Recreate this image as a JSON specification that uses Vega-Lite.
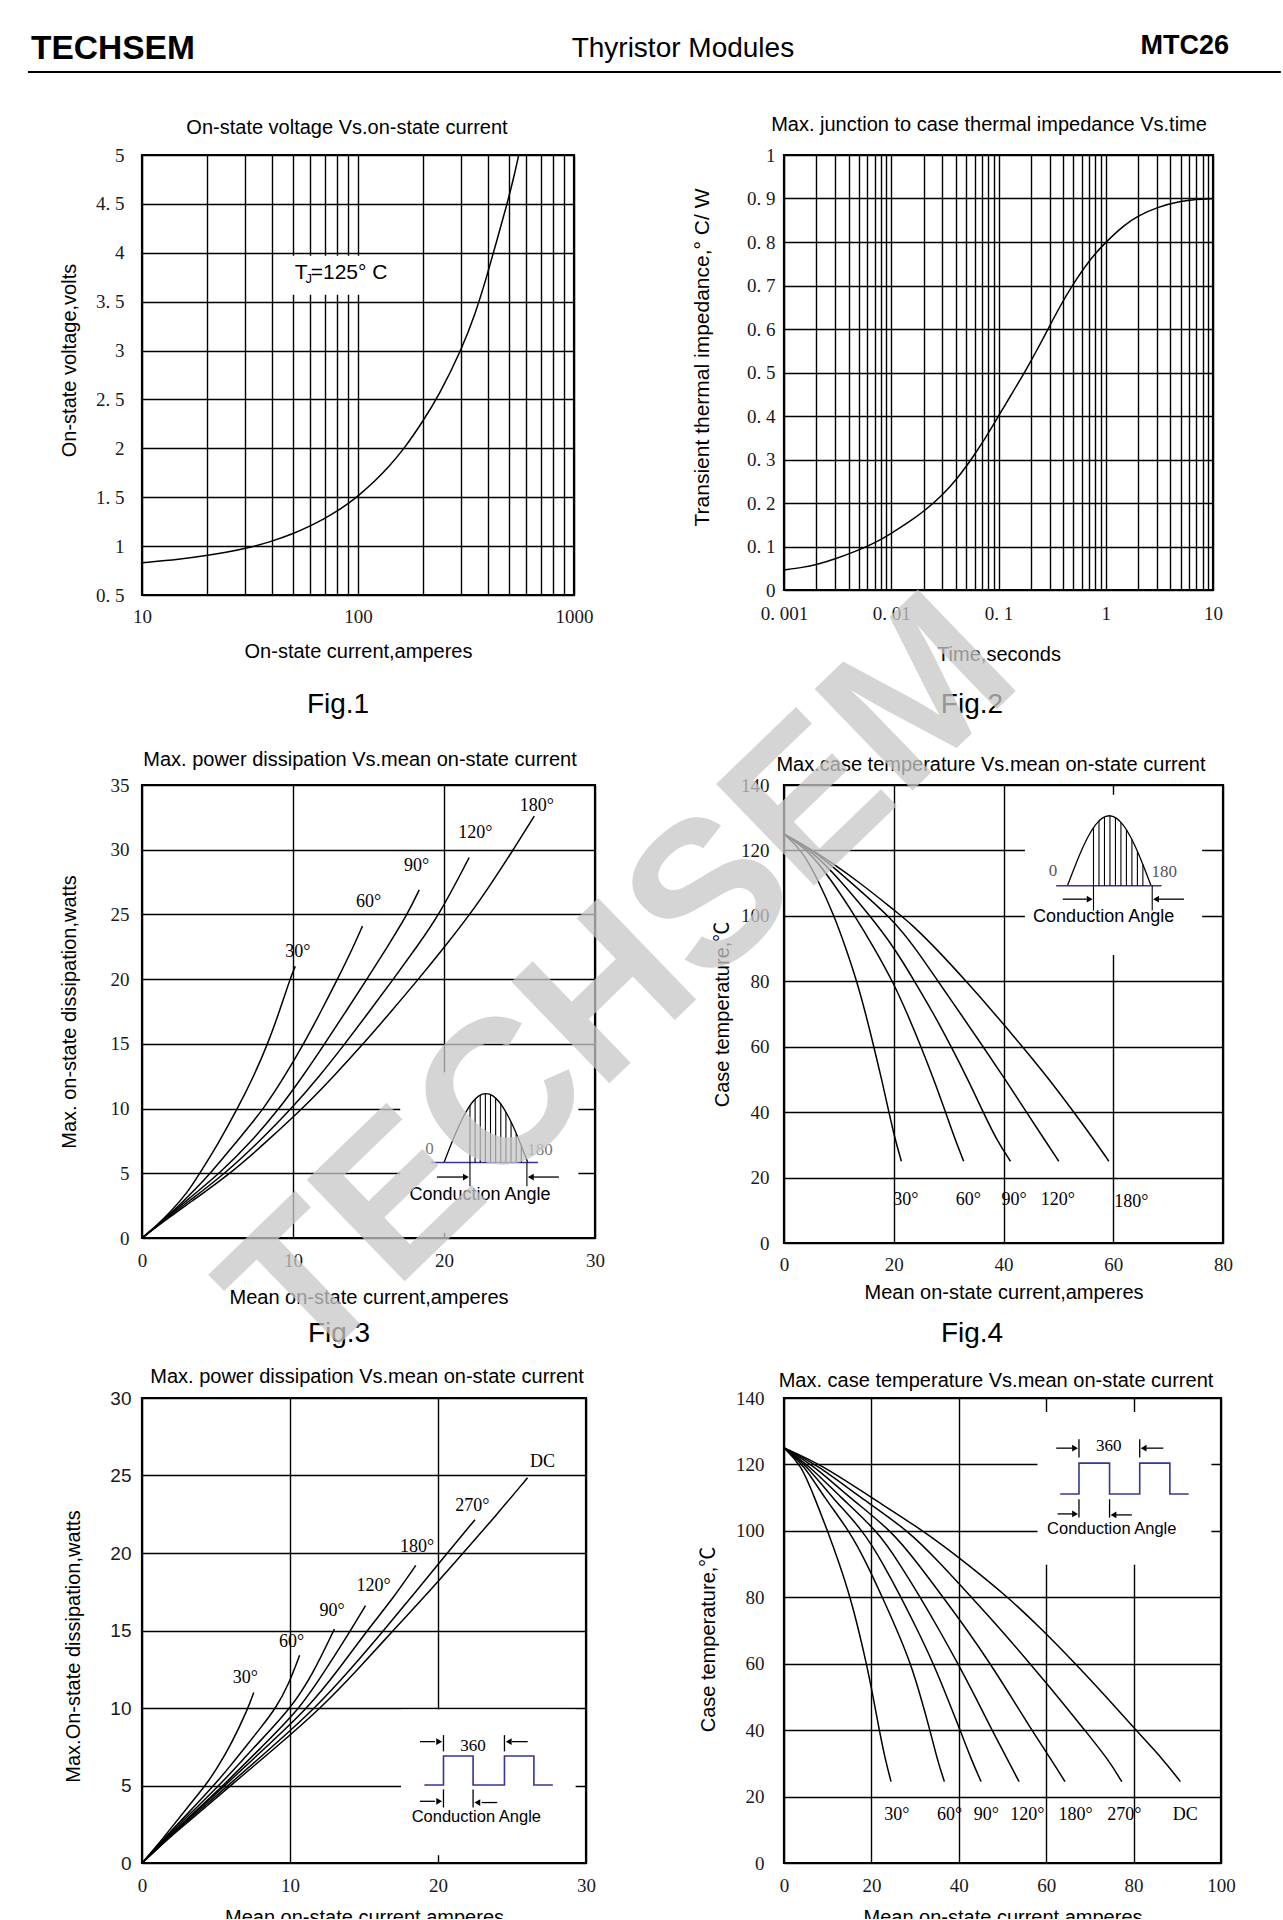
{
"$schema": "https://vega.github.io/schema/vega-lite/v6.json",
"background": "white",
"padding": {"left": 26, "top": 32, "right": 2, "bottom": -10},
"columns": 2,
"spacing": {"row": 0, "column": 189},
"bounds": "flush",
"config": {
 "view": {"stroke": null},
 "axis": {"grid": true, "gridColor": "#000", "gridWidth": 1.4, "gridOpacity": 1, "domain": false, "ticks": false, "tickSize": 0, "labelFont": "Liberation Serif", "labelFontSize": 19, "labelColor": "#1a1a1a", "labelFlush": false, "labelOverlap": false, "titleFont": "Liberation Sans, Noto Sans CJK SC", "titleFontSize": 20, "titleFontWeight": "normal", "titleColor": "#000"},
 "axisX": {"minExtent": 30, "maxExtent": 30},
 "axisY": {"minExtent": 40, "maxExtent": 40},
 "title": {"font": "Liberation Sans", "fontSize": 20, "fontWeight": "normal", "color": "#000", "baseline": "alphabetic", "frame": "group"},
 "line": {"color": "#000", "strokeWidth": 1.5},
 "text": {"font": "Liberation Sans", "color": "#000"},
 "rule": {"color": "#000"}
},
"concat": [
 {
  "width": 453, "height": 30,
  "encoding": {
   "x": {"field": "x", "type": "quantitative", "scale": {"domain": [0, 1], "nice": false}, "axis": null},
   "y": {"field": "y", "type": "quantitative", "scale": {"domain": [0, 1], "nice": false}, "axis": null}
  },
  "layer": [
   {"data": {"values": [{"x": -0.2517, "x2": 2.514, "y": 0}]}, "mark": {"type": "rule", "strokeWidth": 2}, "encoding": {"x2": {"field": "x2"}}},
   {"data": {"values": [{"x": -0.245, "y": 0.433, "t": "TECHSEM"}]}, "mark": {"type": "text", "align": "left", "baseline": "alphabetic", "fontSize": 33.5, "fontWeight": "bold"}, "encoding": {"text": {"field": "t"}}},
   {"data": {"values": [{"x": 1.194, "y": 0.5, "t": "Thyristor Modules"}]}, "mark": {"type": "text", "align": "center", "baseline": "alphabetic", "fontSize": 28}, "encoding": {"text": {"field": "t"}}},
   {"data": {"values": [{"x": 2.3996, "y": 0.6, "t": "MTC26"}]}, "mark": {"type": "text", "align": "right", "baseline": "alphabetic", "fontSize": 27, "fontWeight": "bold"}, "encoding": {"text": {"field": "t"}}}
  ]
 },
 {"width": 1, "height": 113, "data": {"values": []}, "mark": "point"},
 {
  "width": 432, "height": 440,
  "view": {"stroke": "#000", "strokeWidth": 2.2},
  "title": {"text": "On-state voltage  Vs.on-state current", "offset": 8.3, "dx": -11},
  "encoding": {
   "x": {"field": "x", "type": "quantitative", "scale": {"type": "log", "domain": [10, 1000], "nice": false},
    "axis": {"title": "On-state current,amperes", "values": [10,20,30,40,50,60,70,80,90,100,200,300,400,500,600,700,800,900,1000], "format": "~g", "labelExpr": "datum.value == 10 || datum.value == 100 || datum.value == 1000 ? datum.label : ''", "labelPadding": 12.7, "titlePadding": 16.4}},
   "y": {"field": "y", "type": "quantitative", "scale": {"domain": [0.5, 5], "nice": false, "zero": false},
    "axis": {"title": "On-state voltage,volts", "values": [0.5,1,1.5,2,2.5,3,3.5,4,4.5,5], "format": "~g", "labelExpr": "replace(datum.label, '.', '. ')", "labelPadding": 18, "titlePadding": 22.6, "titleY": 205}}
  },
  "layer": [
   {"data": {"values": [{"x": 42, "x2": 150, "y": 3.57, "y2": 3.97}]}, "mark": {"type": "rect", "color": "#fff"}, "encoding": {"x2": {"field": "x2"}, "y2": {"field": "y2"}}},
   {"data": {"values": [{"x":10,"y":0.83},{"x":15,"y":0.865},{"x":20,"y":0.905},{"x":25,"y":0.94},{"x":30,"y":0.973},{"x":40,"y":1.048},{"x":50,"y":1.126},{"x":60,"y":1.205},{"x":70,"y":1.282},{"x":80,"y":1.357},{"x":90,"y":1.434},{"x":100,"y":1.512},{"x":120,"y":1.665},{"x":140,"y":1.82},{"x":164,"y":2.0},{"x":199,"y":2.27},{"x":238,"y":2.55},{"x":300,"y":3.0},{"x":350,"y":3.38},{"x":395,"y":3.76},{"x":440,"y":4.13},{"x":490,"y":4.5},{"x":525,"y":4.76},{"x":555,"y":5.0}]},
    "mark": {"type": "line", "interpolate": "basis"}, "encoding": {}},
   {"data": {"values": [{"x": 51.0, "y": 3.73, "t": "T"}, {"x": 60.4, "y": 3.73, "t": "=125°  C"}]}, "mark": {"type": "text", "align": "left", "baseline": "alphabetic", "fontSize": 21}, "encoding": {"text": {"field": "t"}}},
   {"data": {"values": [{"x": 57.1, "y": 3.694, "t": "J"}]}, "mark": {"type": "text", "align": "left", "baseline": "alphabetic", "fontSize": 13}, "encoding": {"text": {"field": "t"}}},
   {"data": {"values": [{"x": 80.8, "y": -0.625, "t": "Fig.1"}]}, "mark": {"type": "text", "align": "center", "baseline": "middle", "fontSize": 28}, "encoding": {"text": {"field": "t"}}}
  ]
 },
 {
  "width": 429, "height": 435,
  "view": {"stroke": "#000", "strokeWidth": 2.2},
  "title": {"text": "Max. junction to case thermal  impedance  Vs.time", "offset": 11.3, "dx": -9.5},
  "encoding": {
   "x": {"field": "x", "type": "quantitative", "scale": {"type": "log", "domain": [0.001, 10], "nice": false},
    "axis": {"title": "Time,seconds", "values": [0.001,0.002,0.003,0.004,0.005,0.006,0.007,0.008,0.009,0.01,0.02,0.03,0.04,0.05,0.06,0.07,0.08,0.09,0.1,0.2,0.3,0.4,0.5,0.6,0.7,0.8,0.9,1,2,3,4,5,6,7,8,9,10], "format": "~g", "labelExpr": "indexof([0.001, 0.01, 0.1, 1, 10], datum.value) >= 0 ? replace(datum.label, '.', '. ') : ''", "labelPadding": 14.2, "titlePadding": 24.4}},
   "y": {"field": "y", "type": "quantitative", "scale": {"domain": [0, 1], "nice": false},
    "axis": {"title": "Transient  thermal impedance,°  C/ W", "titleFontSize": 21, "values": [0,0.1,0.2,0.3,0.4,0.5,0.6,0.7,0.8,0.9,1], "format": "~g", "labelExpr": "replace(datum.label, '.', '. ')", "labelPadding": 9, "titlePadding": 31.1, "titleY": 202}}
  },
  "layer": [
   {"data": {"values": [{"x":0.001,"y":0.046},{"x":0.0015,"y":0.052},{"x":0.002,"y":0.058},{"x":0.003,"y":0.071},{"x":0.005,"y":0.092},{"x":0.007,"y":0.108},{"x":0.01,"y":0.13},{"x":0.015,"y":0.158},{"x":0.02,"y":0.18},{"x":0.03,"y":0.218},{"x":0.04,"y":0.252},{"x":0.055,"y":0.298},{"x":0.07,"y":0.336},{"x":0.1,"y":0.4},{"x":0.13,"y":0.447},{"x":0.18,"y":0.505},{"x":0.23,"y":0.553},{"x":0.29,"y":0.6},{"x":0.37,"y":0.65},{"x":0.486,"y":0.7},{"x":0.7,"y":0.758},{"x":1,"y":0.8},{"x":1.5,"y":0.84},{"x":2,"y":0.86},{"x":3,"y":0.88},{"x":5,"y":0.894},{"x":7,"y":0.898},{"x":10,"y":0.9}]},
    "mark": {"type": "line", "interpolate": "basis"}, "encoding": {}},
   {"data": {"values": [{"x": 0.0566, "y": -0.264, "t": "Fig.2"}]}, "mark": {"type": "text", "align": "center", "baseline": "middle", "fontSize": 28}, "encoding": {"text": {"field": "t"}}}
  ]
 },
 {"width": 1, "height": 190, "data": {"values": []}, "mark": "point"},
 {"width": 1, "height": 190, "data": {"values": []}, "mark": "point"},
 {
  "width": 453, "height": 453,
  "view": {"stroke": "#000", "strokeWidth": 2.2},
  "title": {"text": "Max. power dissipation Vs.mean on-state current", "offset": 6.3, "dx": -8.5},
  "encoding": {
   "x": {"field": "x", "type": "quantitative", "scale": {"domain": [0, 30], "nice": false},
    "axis": {"title": "Mean on-state current,amperes", "values": [0,10,20,30], "format": "d", "labelPadding": 13.7, "titlePadding": 19.4}},
   "y": {"field": "y", "type": "quantitative", "scale": {"domain": [0, 35], "nice": false},
    "axis": {"title": "Max. on-state dissipation,watts", "values": [0,5,10,15,20,25,30,35], "format": "d", "labelPadding": 13, "titlePadding": 22.6}}
  },
  "layer": [
   {"data": {"values": [{"x": 17.1, "x2": 28.9, "y": 0.4, "y2": 12.8}]}, "mark": {"type": "rect", "color": "#fff"}, "encoding": {"x2": {"field": "x2"}, "y2": {"field": "y2"}}},
   {"data": {"values": [
     {"s":"30","x":0,"y":0},{"s":"30","x":1,"y":1.0},{"s":"30","x":2,"y":2.15},{"s":"30","x":3,"y":3.5},{"s":"30","x":3.82,"y":5},{"s":"30","x":5,"y":7.2},{"s":"30","x":6.33,"y":10},{"s":"30","x":7.4,"y":12.5},{"s":"30","x":8.33,"y":15},{"s":"30","x":9.1,"y":17.5},{"s":"30","x":9.8,"y":20},{"s":"30","x":10.15,"y":21.0},
     {"s":"60","x":0,"y":0},{"s":"60","x":1,"y":0.95},{"s":"60","x":2,"y":2.0},{"s":"60","x":3,"y":3.15},{"s":"60","x":4.55,"y":5},{"s":"60","x":6.3,"y":7.5},{"s":"60","x":8.08,"y":10},{"s":"60","x":9.45,"y":12.5},{"s":"60","x":10.71,"y":15},{"s":"60","x":11.85,"y":17.5},{"s":"60","x":12.95,"y":20},{"s":"60","x":14.0,"y":22.5},{"s":"60","x":14.6,"y":24.1},
     {"s":"90","x":0,"y":0},{"s":"90","x":1,"y":0.95},{"s":"90","x":2,"y":1.95},{"s":"90","x":3,"y":2.95},{"s":"90","x":5.16,"y":5},{"s":"90","x":7.2,"y":7.4},{"s":"90","x":9.1,"y":10},{"s":"90","x":10.65,"y":12.5},{"s":"90","x":12.1,"y":15},{"s":"90","x":13.5,"y":17.5},{"s":"90","x":14.9,"y":20},{"s":"90","x":16.25,"y":22.5},{"s":"90","x":17.58,"y":25},{"s":"90","x":18.36,"y":26.9},
     {"s":"120","x":0,"y":0},{"s":"120","x":1,"y":0.92},{"s":"120","x":2,"y":1.85},{"s":"120","x":3,"y":2.75},{"s":"120","x":5.53,"y":5},{"s":"120","x":7.8,"y":7.5},{"s":"120","x":9.91,"y":10},{"s":"120","x":11.75,"y":12.5},{"s":"120","x":13.44,"y":15},{"s":"120","x":15.05,"y":17.5},{"s":"120","x":16.65,"y":20},{"s":"120","x":18.2,"y":22.5},{"s":"120","x":19.7,"y":25},{"s":"120","x":21.67,"y":29.4},
     {"s":"180","x":0,"y":0},{"s":"180","x":1,"y":0.9},{"s":"180","x":2,"y":1.75},{"s":"180","x":3,"y":2.6},{"s":"180","x":5.89,"y":5},{"s":"180","x":8.3,"y":7.5},{"s":"180","x":10.64,"y":10},{"s":"180","x":12.7,"y":12.5},{"s":"180","x":14.66,"y":15},{"s":"180","x":16.5,"y":17.5},{"s":"180","x":18.31,"y":20},{"s":"180","x":20.05,"y":22.5},{"s":"180","x":21.72,"y":25},{"s":"180","x":23.2,"y":27.5},{"s":"180","x":24.59,"y":30},{"s":"180","x":25.98,"y":32.6}
    ]}, "mark": {"type": "line", "interpolate": "basis"}, "encoding": {"detail": {"field": "s"}}},
   {"data": {"values": [{"x":10.32,"y":22.12,"t":"30°"},{"x":15.0,"y":25.97,"t":"60°"},{"x":18.19,"y":28.78,"t":"90°"},{"x":22.08,"y":31.3,"t":"120°"},{"x":26.15,"y":33.37,"t":"180°"}]},
    "mark": {"type": "text", "font": "Liberation Serif", "fontSize": 18, "align": "center", "baseline": "middle"}, "encoding": {"text": {"field": "t"}}},
   {"data": {"values": [{"x":20.0,"y":5.83},{"x":20.46,"y":7.21},{"x":20.93,"y":8.5},{"x":21.39,"y":9.6},{"x":21.85,"y":10.45},{"x":22.31,"y":10.98},{"x":22.78,"y":11.16},{"x":23.24,"y":10.98},{"x":23.7,"y":10.45},{"x":24.16,"y":9.6},{"x":24.63,"y":8.5},{"x":25.09,"y":7.21},{"x":25.55,"y":5.83}]},
    "mark": {"type": "line", "interpolate": "monotone", "strokeWidth": 1.3}, "encoding": {}},
   {"data": {"values": [{"x": 19.16, "x2": 26.22, "y": 5.83}]}, "mark": {"type": "rule", "color": "#34349a", "strokeWidth": 1.5}, "encoding": {"x2": {"field": "x2"}}},
   {"data": {"values": [{"x":21.72,"y":4.0,"y2":10.24},{"x":22.06,"y":5.83,"y2":10.73},{"x":22.4,"y":5.83,"y2":11.04},{"x":22.74,"y":5.83,"y2":11.16},{"x":23.08,"y":5.83,"y2":11.08},{"x":23.42,"y":5.83,"y2":10.81},{"x":23.76,"y":5.83,"y2":10.36},{"x":24.1,"y":5.83,"y2":9.73},{"x":24.44,"y":5.83,"y2":8.96},{"x":24.78,"y":5.83,"y2":8.08},{"x":25.12,"y":5.83,"y2":7.11},{"x":25.49,"y":4.0,"y2":5.83}]},
    "mark": {"type": "rule", "strokeWidth": 1.1}, "encoding": {"y2": {"field": "y2"}}},
   {"data": {"values": [{"x": 19.53, "x2": 21.3, "y": 4.71}, {"x": 27.61, "x2": 25.9, "y": 4.71}]}, "mark": {"type": "rule", "strokeWidth": 1.3}, "encoding": {"x2": {"field": "x2"}}},
   {"data": {"values": [{"x": 21.45, "y": 4.71, "d": "r"}, {"x": 25.75, "y": 4.71, "d": "l"}]}, "mark": {"type": "point", "filled": true, "color": "#000", "opacity": 1, "size": 45},
    "encoding": {"shape": {"field": "d", "type": "nominal", "scale": {"domain": ["r", "l"], "range": ["triangle-right", "triangle-left"]}, "legend": null}}},
   {"data": {"values": [{"x": 19.04, "y": 6.87, "t": "0"}, {"x": 26.35, "y": 6.78, "t": "180"}]}, "mark": {"type": "text", "font": "Liberation Serif", "fontSize": 17, "color": "#777", "align": "center", "baseline": "middle"}, "encoding": {"text": {"field": "t"}}},
   {"data": {"values": [{"x": 22.38, "y": 3.32, "t": "Conduction Angle"}]}, "mark": {"type": "text", "fontSize": 18, "align": "center", "baseline": "middle"}, "encoding": {"text": {"field": "t"}}},
   {"data": {"values": [{"x": 13.05, "y": -7.42, "t": "Fig.3"}]}, "mark": {"type": "text", "align": "center", "baseline": "middle", "fontSize": 28}, "encoding": {"text": {"field": "t"}}}
  ]
 },
 {
  "width": 439, "height": 458,
  "view": {"stroke": "#000", "strokeWidth": 2.2},
  "title": {"text": "Max.case temperature  Vs.mean on-state current", "offset": 1.3, "dx": -12.5},
  "encoding": {
   "x": {"field": "x", "type": "quantitative", "scale": {"domain": [0, 80], "nice": false},
    "axis": {"title": "Mean on-state current,amperes", "values": [0,20,40,60,80], "format": "d", "labelPadding": 12.7, "titlePadding": 9.4}},
   "y": {"field": "y", "type": "quantitative", "scale": {"domain": [0, 140], "nice": false},
    "axis": {"title": "Case temperature,℃", "values": [0,20,40,60,80,100,120,140], "format": "d", "labelPadding": 15, "titlePadding": 11.6}}
  },
  "layer": [
   {"data": {"values": [{"x": 43.9, "x2": 76.2, "y": 88, "y2": 137}]}, "mark": {"type": "rect", "color": "#fff"}, "encoding": {"x2": {"field": "x2"}, "y2": {"field": "y2"}}},
   {"data": {"values": [
     {"s":"30","x":0,"y":125},{"s":"30","x":3.3,"y":120},{"s":"30","x":6.2,"y":111},{"s":"30","x":9.15,"y":100},{"s":"30","x":11.3,"y":90},{"s":"30","x":13.27,"y":80},{"s":"30","x":14.9,"y":70},{"s":"30","x":16.37,"y":60},{"s":"30","x":17.8,"y":50},{"s":"30","x":19.12,"y":40},{"s":"30","x":20.2,"y":32},{"s":"30","x":21.39,"y":25},
     {"s":"60","x":0,"y":125},{"s":"60","x":4.5,"y":120},{"s":"60","x":8.6,"y":111},{"s":"60","x":12.93,"y":100},{"s":"60","x":16.5,"y":90},{"s":"60","x":19.8,"y":80},{"s":"60","x":22.5,"y":70},{"s":"60","x":24.97,"y":60},{"s":"60","x":27.3,"y":50},{"s":"60","x":29.44,"y":40},{"s":"60","x":31.1,"y":32},{"s":"60","x":32.74,"y":25},
     {"s":"90","x":0,"y":125},{"s":"90","x":5,"y":120},{"s":"90","x":10.2,"y":111},{"s":"90","x":15.68,"y":100},{"s":"90","x":20,"y":90.5},{"s":"90","x":23.8,"y":80},{"s":"90","x":27.3,"y":70},{"s":"90","x":30.47,"y":60},{"s":"90","x":33.5,"y":50},{"s":"90","x":36.3,"y":40},{"s":"90","x":38.9,"y":31},{"s":"90","x":41.27,"y":25},
     {"s":"120","x":0,"y":125},{"s":"120","x":5.5,"y":120},{"s":"120","x":12,"y":110.5},{"s":"120","x":19.8,"y":99},{"s":"120","x":24,"y":90},{"s":"120","x":28.06,"y":80},{"s":"120","x":32.2,"y":70},{"s":"120","x":36.3,"y":60},{"s":"120","x":40.3,"y":50},{"s":"120","x":44.2,"y":40},{"s":"120","x":47.3,"y":32},{"s":"120","x":50.07,"y":25},
     {"s":"180","x":0,"y":125},{"s":"180","x":6,"y":119.4},{"s":"180","x":14,"y":110},{"s":"180","x":20,"y":101.8},{"s":"180","x":23.25,"y":97.5},{"s":"180","x":28.3,"y":89},{"s":"180","x":33.2,"y":80},{"s":"180","x":38.2,"y":70.5},{"s":"180","x":43.2,"y":60.5},{"s":"180","x":48.1,"y":50.5},{"s":"180","x":52.82,"y":40},{"s":"180","x":56.3,"y":32},{"s":"180","x":59.2,"y":25}
    ]}, "mark": {"type": "line", "interpolate": "basis"}, "encoding": {"detail": {"field": "s"}}},
   {"data": {"values": [{"x":22.2,"y":13.1,"t":"30°"},{"x":33.6,"y":13.1,"t":"60°"},{"x":41.95,"y":13.1,"t":"90°"},{"x":49.9,"y":13.1,"t":"120°"},{"x":63.3,"y":12.5,"t":"180°"}]},
    "mark": {"type": "text", "font": "Liberation Serif", "fontSize": 18, "align": "center", "baseline": "middle"}, "encoding": {"text": {"field": "t"}}},
   {"data": {"values": [{"x":51.65,"y":109.2},{"x":52.92,"y":114.74},{"x":54.19,"y":119.9},{"x":55.46,"y":124.33},{"x":56.73,"y":127.73},{"x":58.0,"y":129.87},{"x":59.28,"y":130.6},{"x":60.55,"y":129.87},{"x":61.82,"y":127.73},{"x":63.09,"y":124.33},{"x":64.36,"y":119.9},{"x":65.63,"y":114.74},{"x":66.9,"y":109.2}]},
    "mark": {"type": "line", "interpolate": "monotone", "strokeWidth": 1.3}, "encoding": {}},
   {"data": {"values": [{"x": 49.6, "x2": 68.8, "y": 109.2}]}, "mark": {"type": "rule", "color": "#34349a", "strokeWidth": 1.5}, "encoding": {"x2": {"field": "x2"}}},
   {"data": {"values": [{"x":56.4,"y":101.6,"y2":126.94},{"x":57.4,"y":109.2,"y2":129.04},{"x":58.4,"y":109.2,"y2":130.26},{"x":59.4,"y":109.2,"y2":130.6},{"x":60.4,"y":109.2,"y2":130.02},{"x":61.4,"y":109.2,"y2":128.59},{"x":62.4,"y":109.2,"y2":126.32},{"x":63.4,"y":109.2,"y2":123.32},{"x":64.4,"y":109.2,"y2":119.73},{"x":65.4,"y":109.2,"y2":115.71},{"x":67.1,"y":101.6,"y2":109.2}]},
    "mark": {"type": "rule", "strokeWidth": 1.1}, "encoding": {"y2": {"field": "y2"}}},
   {"data": {"values": [{"x": 50.8, "x2": 55.2, "y": 105.1}, {"x": 72.9, "x2": 68.3, "y": 105.1}]}, "mark": {"type": "rule", "strokeWidth": 1.3}, "encoding": {"x2": {"field": "x2"}}},
   {"data": {"values": [{"x": 55.7, "y": 105.1, "d": "r"}, {"x": 67.8, "y": 105.1, "d": "l"}]}, "mark": {"type": "point", "filled": true, "color": "#000", "opacity": 1, "size": 45},
    "encoding": {"shape": {"field": "d", "type": "nominal", "scale": {"domain": ["r", "l"], "range": ["triangle-right", "triangle-left"]}, "legend": null}}},
   {"data": {"values": [{"x": 49.0, "y": 113.7, "t": "0"}, {"x": 69.3, "y": 113.3, "t": "180"}]}, "mark": {"type": "text", "font": "Liberation Serif", "fontSize": 17, "color": "#555", "align": "center", "baseline": "middle"}, "encoding": {"text": {"field": "t"}}},
   {"data": {"values": [{"x": 58.25, "y": 99.6, "t": "Conduction Angle"}]}, "mark": {"type": "text", "fontSize": 18, "align": "center", "baseline": "middle"}, "encoding": {"text": {"field": "t"}}},
   {"data": {"values": [{"x": 34.26, "y": -27.8, "t": "Fig.4"}]}, "mark": {"type": "text", "align": "center", "baseline": "middle", "fontSize": 28}, "encoding": {"text": {"field": "t"}}}
  ]
 },
 {
  "width": 453, "height": 155,
  "data": {"values": [{"x": 1.0596, "y": 2.665, "t": "TECHSEM"}]},
  "mark": {"type": "text", "angle": -44, "fontSize": 205, "fontWeight": "bold", "color": "#c8c8c8", "opacity": 0.75, "align": "center", "baseline": "middle"},
  "encoding": {
   "x": {"field": "x", "type": "quantitative", "scale": {"domain": [0, 1], "nice": false}, "axis": null},
   "y": {"field": "y", "type": "quantitative", "scale": {"domain": [0, 1], "nice": false}, "axis": null},
   "text": {"field": "t"}
  }
 },
 {"width": 1, "height": 155, "data": {"values": []}, "mark": "point"},
 {
  "width": 444, "height": 465,
  "view": {"stroke": "#000", "strokeWidth": 2.2},
  "title": {"text": "Max. power dissipation Vs.mean on-state current", "offset": 1.6, "dx": 3},
  "encoding": {
   "x": {"field": "x", "type": "quantitative", "scale": {"domain": [0, 30], "nice": false},
    "axis": {"title": "Mean on-state current,amperes", "values": [0,10,20,30], "format": "d", "labelPadding": 13.7, "titlePadding": 14.5}},
   "y": {"field": "y", "type": "quantitative", "scale": {"domain": [0, 30], "nice": false},
    "axis": {"title": "Max.On-state dissipation,watts", "values": [0,5,10,15,20,25,30], "format": "d", "labelFont": "Liberation Sans", "labelPadding": 11, "titlePadding": 18.6, "titleY": 248}}
  },
  "layer": [
   {"data": {"values": [{"x": 17.5, "x2": 29.3, "y": 0.5, "y2": 9.9}]}, "mark": {"type": "rect", "color": "#fff"}, "encoding": {"x2": {"field": "x2"}, "y2": {"field": "y2"}}},
   {"data": {"values": [
     {"s":"30","x":0,"y":0},{"s":"30","x":1,"y":1.1},{"s":"30","x":2,"y":2.3},{"s":"30","x":3,"y":3.5},{"s":"30","x":4.29,"y":5},{"s":"30","x":5,"y":6.0},{"s":"30","x":6,"y":7.6},{"s":"30","x":7.18,"y":10},{"s":"30","x":7.55,"y":11.0},
     {"s":"60","x":0,"y":0},{"s":"60","x":1,"y":1.05},{"s":"60","x":2,"y":2.1},{"s":"60","x":3,"y":3.1},{"s":"60","x":4.86,"y":5},{"s":"60","x":6,"y":6.3},{"s":"60","x":7,"y":7.5},{"s":"60","x":8,"y":8.7},{"s":"60","x":9.05,"y":10},{"s":"60","x":9.9,"y":11.5},{"s":"60","x":10.65,"y":13.4},
     {"s":"90","x":0,"y":0},{"s":"90","x":1,"y":1.0},{"s":"90","x":2,"y":2.0},{"s":"90","x":3,"y":2.95},{"s":"90","x":5.24,"y":5},{"s":"90","x":7.5,"y":7.4},{"s":"90","x":10.1,"y":10},{"s":"90","x":11.6,"y":12.3},{"s":"90","x":13.0,"y":15.1},
     {"s":"120","x":0,"y":0},{"s":"120","x":1,"y":0.95},{"s":"120","x":2,"y":1.9},{"s":"120","x":3,"y":2.8},{"s":"120","x":5.49,"y":5},{"s":"120","x":8.1,"y":7.5},{"s":"120","x":10.72,"y":10},{"s":"120","x":12.5,"y":12.6},{"s":"120","x":14.09,"y":15},{"s":"120","x":15.1,"y":16.6},
     {"s":"180","x":0,"y":0},{"s":"180","x":1,"y":0.93},{"s":"180","x":2,"y":1.85},{"s":"180","x":3,"y":2.75},{"s":"180","x":5.61,"y":5},{"s":"180","x":8.4,"y":7.5},{"s":"180","x":11.22,"y":10},{"s":"180","x":13.3,"y":12.5},{"s":"180","x":15.21,"y":15},{"s":"180","x":16.9,"y":17},{"s":"180","x":18.5,"y":19.2},
     {"s":"270","x":0,"y":0},{"s":"270","x":1,"y":0.9},{"s":"270","x":2,"y":1.8},{"s":"270","x":3,"y":2.65},{"s":"270","x":5.81,"y":5},{"s":"270","x":8.8,"y":7.5},{"s":"270","x":11.72,"y":10},{"s":"270","x":14.1,"y":12.5},{"s":"270","x":16.33,"y":15},{"s":"270","x":18.5,"y":17.5},{"s":"270","x":20.62,"y":20},{"s":"270","x":22.5,"y":22.15},
     {"s":"DC","x":0,"y":0},{"s":"DC","x":1,"y":0.88},{"s":"DC","x":2,"y":1.75},{"s":"DC","x":3,"y":2.55},{"s":"DC","x":5.99,"y":5},{"s":"DC","x":9.1,"y":7.5},{"s":"DC","x":12.1,"y":10},{"s":"DC","x":14.6,"y":12.5},{"s":"DC","x":16.96,"y":15},{"s":"DC","x":19.4,"y":17.5},{"s":"DC","x":21.7,"y":20},{"s":"DC","x":23.9,"y":22.4},{"s":"DC","x":26.05,"y":24.85}
    ]}, "mark": {"type": "line", "interpolate": "basis"}, "encoding": {"detail": {"field": "s"}}},
   {"data": {"values": [{"x":6.98,"y":11.92,"t":"30°"},{"x":10.1,"y":14.26,"t":"60°"},{"x":12.84,"y":16.27,"t":"90°"},{"x":15.64,"y":17.84,"t":"120°"},{"x":18.58,"y":20.41,"t":"180°"},{"x":22.32,"y":23.05,"t":"270°"},{"x":27.06,"y":25.86,"t":"DC"}]},
    "mark": {"type": "text", "font": "Liberation Serif", "fontSize": 18, "align": "center", "baseline": "middle"}, "encoding": {"text": {"field": "t"}}},
   {"data": {"values": [{"o":1,"x":19.08,"y":5.03},{"o":2,"x":20.37,"y":5.03},{"o":3,"x":20.37,"y":6.9},{"o":4,"x":22.37,"y":6.9},{"o":5,"x":22.37,"y":5.03},{"o":6,"x":24.49,"y":5.03},{"o":7,"x":24.49,"y":6.9},{"o":8,"x":26.48,"y":6.9},{"o":9,"x":26.48,"y":5.03},{"o":10,"x":27.76,"y":5.03}]},
    "mark": {"type": "line", "color": "#34349a", "strokeWidth": 1.6}, "encoding": {"order": {"field": "o", "type": "quantitative"}}},
   {"data": {"values": [{"x":20.37,"y":7.2,"y2":8.25},{"x":24.49,"y":7.2,"y2":8.25},{"x":20.37,"y":3.58,"y2":4.75},{"x":22.37,"y":3.58,"y2":4.75}]},
    "mark": {"type": "rule", "strokeWidth": 1.3}, "encoding": {"y2": {"field": "y2"}}},
   {"data": {"values": [{"x":18.78,"x2":19.8,"y":7.83},{"x":26.06,"x2":25.0,"y":7.83},{"x":18.78,"x2":19.8,"y":3.98},{"x":24.0,"x2":22.95,"y":3.9}]},
    "mark": {"type": "rule", "strokeWidth": 1.3}, "encoding": {"x2": {"field": "x2"}}},
   {"data": {"values": [{"x":20.08,"y":7.83,"d":"r"},{"x":24.78,"y":7.83,"d":"l"},{"x":20.08,"y":3.98,"d":"r"},{"x":22.66,"y":3.9,"d":"l"}]}, "mark": {"type": "point", "filled": true, "color": "#000", "opacity": 1, "size": 45},
    "encoding": {"shape": {"field": "d", "type": "nominal", "scale": {"domain": ["r", "l"], "range": ["triangle-right", "triangle-left"]}, "legend": null}}},
   {"data": {"values": [{"x": 22.37, "y": 7.55, "t": "360"}]}, "mark": {"type": "text", "font": "Liberation Serif", "fontSize": 17, "align": "center", "baseline": "middle"}, "encoding": {"text": {"field": "t"}}},
   {"data": {"values": [{"x": 22.59, "y": 2.95, "t": "Conduction  Angle"}]}, "mark": {"type": "text", "fontSize": 16.5, "align": "center", "baseline": "middle"}, "encoding": {"text": {"field": "t"}}}
  ]
 },
 {
  "width": 437, "height": 465,
  "view": {"stroke": "#000", "strokeWidth": 2.2},
  "title": {"text": "Max. case temperature  Vs.mean on-state current", "offset": -1.7, "dx": -6.5},
  "encoding": {
   "x": {"field": "x", "type": "quantitative", "scale": {"domain": [0, 100], "nice": false},
    "axis": {"title": "Mean on-state current,amperes", "values": [0,20,40,60,80,100], "format": "d", "labelPadding": 13.7, "titlePadding": 14.5}},
   "y": {"field": "y", "type": "quantitative", "scale": {"domain": [0, 140], "nice": false},
    "axis": {"title": "Case temperature,℃", "values": [0,20,40,60,80,100,120,140], "format": "d", "labelPadding": 20, "titlePadding": 25.1, "titleY": 241}}
  },
  "layer": [
   {"data": {"values": [{"x": 58, "x2": 97.8, "y": 89.8, "y2": 135.8}]}, "mark": {"type": "rect", "color": "#fff"}, "encoding": {"x2": {"field": "x2"}, "y2": {"field": "y2"}}},
   {"data": {"values": [
     {"s":"30","x":0,"y":125},{"s":"30","x":3.9,"y":120},{"s":"30","x":7,"y":110},{"s":"30","x":9.96,"y":100},{"s":"30","x":12.7,"y":90},{"s":"30","x":15.15,"y":80},{"s":"30","x":17.1,"y":70},{"s":"30","x":18.87,"y":60},{"s":"30","x":20.4,"y":50},{"s":"30","x":21.8,"y":40},{"s":"30","x":23.2,"y":31},{"s":"30","x":24.5,"y":24.5},
     {"s":"60","x":0,"y":125},{"s":"60","x":4.5,"y":120},{"s":"60","x":9.2,"y":110},{"s":"60","x":14.98,"y":100},{"s":"60","x":19,"y":90},{"s":"60","x":22.5,"y":80},{"s":"60","x":25.9,"y":70},{"s":"60","x":29.0,"y":60},{"s":"60","x":31.3,"y":50},{"s":"60","x":33.4,"y":40},{"s":"60","x":35.1,"y":31},{"s":"60","x":36.7,"y":24.5},
     {"s":"90","x":0,"y":125},{"s":"90","x":5,"y":120},{"s":"90","x":11,"y":110},{"s":"90","x":18.2,"y":100},{"s":"90","x":22.7,"y":90},{"s":"90","x":26.8,"y":80},{"s":"90","x":30.6,"y":70},{"s":"90","x":34.2,"y":60},{"s":"90","x":37.3,"y":50},{"s":"90","x":40.3,"y":40},{"s":"90","x":42.9,"y":31},{"s":"90","x":45.1,"y":24.5},
     {"s":"120","x":0,"y":125},{"s":"120","x":5.5,"y":120},{"s":"120","x":13,"y":110},{"s":"120","x":21.4,"y":100},{"s":"120","x":26.5,"y":90},{"s":"120","x":31.2,"y":80},{"s":"120","x":35.6,"y":70},{"s":"120","x":39.8,"y":60},{"s":"120","x":43.8,"y":50},{"s":"120","x":47.6,"y":40},{"s":"120","x":51.2,"y":31},{"s":"120","x":53.8,"y":24.5},
     {"s":"180","x":0,"y":125},{"s":"180","x":6.5,"y":120},{"s":"180","x":15,"y":110},{"s":"180","x":24.7,"y":100},{"s":"180","x":30.7,"y":90},{"s":"180","x":36.4,"y":80},{"s":"180","x":42,"y":70},{"s":"180","x":47.2,"y":60},{"s":"180","x":52,"y":50},{"s":"180","x":56.7,"y":40},{"s":"180","x":61.2,"y":31},{"s":"180","x":64.3,"y":24.5},
     {"s":"270","x":0,"y":125},{"s":"270","x":7.5,"y":120},{"s":"270","x":17.5,"y":110},{"s":"270","x":28.6,"y":100},{"s":"270","x":35.9,"y":90},{"s":"270","x":42.9,"y":80},{"s":"270","x":49.8,"y":70},{"s":"270","x":56.3,"y":60},{"s":"270","x":62.7,"y":50},{"s":"270","x":68.8,"y":40},{"s":"270","x":74.3,"y":31},{"s":"270","x":77.3,"y":24.5},
     {"s":"DC","x":0,"y":125},{"s":"DC","x":8.5,"y":120},{"s":"DC","x":20,"y":110},{"s":"DC","x":32.0,"y":100},{"s":"DC","x":42,"y":90},{"s":"DC","x":51.3,"y":80},{"s":"DC","x":59.3,"y":70},{"s":"DC","x":66.7,"y":60},{"s":"DC","x":73.8,"y":50},{"s":"DC","x":80.5,"y":40},{"s":"DC","x":86.9,"y":31},{"s":"DC","x":90.7,"y":24.5}
    ]}, "mark": {"type": "line", "interpolate": "basis"}, "encoding": {"detail": {"field": "s"}}},
   {"data": {"values": [{"x":25.8,"y":14.6,"t":"30°"},{"x":37.9,"y":14.6,"t":"60°"},{"x":46.3,"y":14.6,"t":"90°"},{"x":55.7,"y":14.6,"t":"120°"},{"x":66.7,"y":14.6,"t":"180°"},{"x":77.9,"y":14.6,"t":"270°"},{"x":91.8,"y":14.6,"t":"DC"}]},
    "mark": {"type": "text", "font": "Liberation Serif", "fontSize": 18, "align": "center", "baseline": "middle"}, "encoding": {"text": {"field": "t"}}},
   {"data": {"values": [{"o":1,"x":63.2,"y":111.1},{"o":2,"x":67.5,"y":111.1},{"o":3,"x":67.5,"y":120.4},{"o":4,"x":74.5,"y":120.4},{"o":5,"x":74.5,"y":111.1},{"o":6,"x":81.4,"y":111.1},{"o":7,"x":81.4,"y":120.4},{"o":8,"x":88.3,"y":120.4},{"o":9,"x":88.3,"y":111.1},{"o":10,"x":92.6,"y":111.1}]},
    "mark": {"type": "line", "color": "#34349a", "strokeWidth": 1.6}, "encoding": {"order": {"field": "o", "type": "quantitative"}}},
   {"data": {"values": [{"x":67.5,"y":122.1,"y2":127.6},{"x":81.4,"y":122.1,"y2":127.6},{"x":67.5,"y":104.0,"y2":109.5},{"x":74.5,"y":104.0,"y2":109.5}]},
    "mark": {"type": "rule", "strokeWidth": 1.3}, "encoding": {"y2": {"field": "y2"}}},
   {"data": {"values": [{"x":62.3,"x2":66.0,"y":124.9},{"x":86.8,"x2":82.9,"y":124.9},{"x":62.6,"x2":66.0,"y":105.1},{"x":79.6,"x2":76.0,"y":104.8}]},
    "mark": {"type": "rule", "strokeWidth": 1.3}, "encoding": {"x2": {"field": "x2"}}},
   {"data": {"values": [{"x":66.6,"y":124.9,"d":"r"},{"x":82.3,"y":124.9,"d":"l"},{"x":66.6,"y":105.1,"d":"r"},{"x":75.4,"y":104.8,"d":"l"}]}, "mark": {"type": "point", "filled": true, "color": "#000", "opacity": 1, "size": 45},
    "encoding": {"shape": {"field": "d", "type": "nominal", "scale": {"domain": ["r", "l"], "range": ["triangle-right", "triangle-left"]}, "legend": null}}},
   {"data": {"values": [{"x": 74.3, "y": 125.6, "t": "360"}]}, "mark": {"type": "text", "font": "Liberation Serif", "fontSize": 17, "align": "center", "baseline": "middle"}, "encoding": {"text": {"field": "t"}}},
   {"data": {"values": [{"x": 75.0, "y": 100.5, "t": "Conduction  Angle"}]}, "mark": {"type": "text", "fontSize": 16.5, "align": "center", "baseline": "middle"}, "encoding": {"text": {"field": "t"}}}
  ]
 }
]
}
